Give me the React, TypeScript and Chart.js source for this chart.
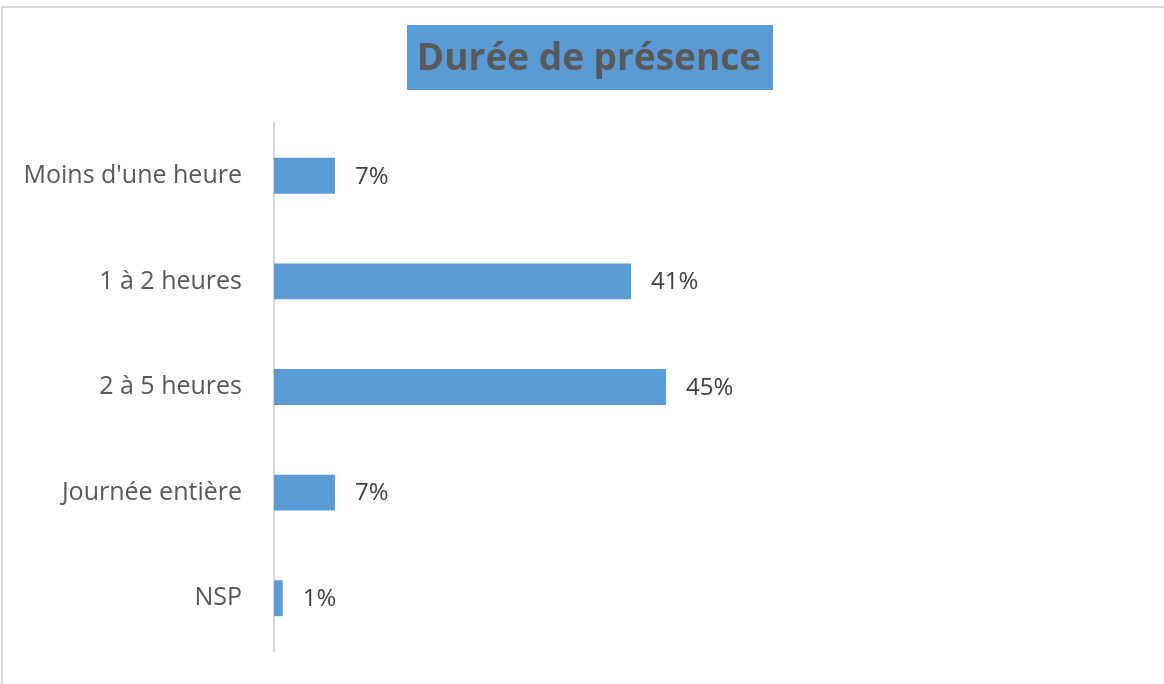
import React, { useEffect, useRef } from "react";
import { Chart, registerables } from "chart.js";

Chart.register(...registerables);

const chartTitle = "Durée de présence";
const categories = ["Moins d'une heure", "1 à 2 heures", "2 à 5 heures", "Journée entière", "NSP"];
const values = [7, 41, 45, 7, 1];
const axisMax = 100;

const FONT = "'Open Sans', 'Noto Sans', sans-serif";
const BLUE = "#5B9BD5";

export default function App() {
  const ref = useRef<HTMLCanvasElement>(null);

  useEffect(() => {
    document.body.style.margin = "0";
    const canvas = ref.current;
    if (!canvas) return;

    const titleBox = {
      id: "titleBox",
      beforeDraw(chart: any) {
        const ctx = chart.ctx;
        ctx.save();
        ctx.fillStyle = "#ffffff";
        ctx.fillRect(0, 0, chart.width, chart.height);
        ctx.strokeStyle = "#d9d9d9";
        ctx.lineWidth = 2;
        ctx.beginPath();
        ctx.moveTo(2, chart.height);
        ctx.lineTo(2, 7);
        ctx.lineTo(chart.width, 7);
        ctx.stroke();
        ctx.fillStyle = BLUE;
        ctx.fillRect(407, 25, 366, 65);
        ctx.fillStyle = "#595959";
        ctx.font = `bold 37px ${FONT}`;
        ctx.textAlign = "center";
        ctx.textBaseline = "middle";
        ctx.fillText(chartTitle, 589, 59);
        ctx.restore();
      },
    };

    const valueLabels = {
      id: "valueLabels",
      afterDatasetsDraw(chart: any) {
        const ctx = chart.ctx;
        const meta = chart.getDatasetMeta(0);
        ctx.save();
        ctx.fillStyle = "#404040";
        ctx.font = `24px ${FONT}`;
        ctx.textAlign = "left";
        ctx.textBaseline = "middle";
        meta.data.forEach((bar: any, i: number) => {
          ctx.fillText(values[i] + "%", bar.x + 20, bar.y + 1);
        });
        ctx.restore();
      },
    };

    const chart = new Chart(canvas, {
      type: "bar",
      data: {
        labels: categories,
        datasets: [
          {
            data: values,
            backgroundColor: BLUE,
            borderWidth: 0,
            barPercentage: 0.34,
            categoryPercentage: 1,
          },
        ],
      },
      options: {
        indexAxis: "y",
        responsive: false,
        animation: false,
        layout: { padding: { top: 123, bottom: 33, right: 19, left: 0 } },
        plugins: {
          legend: { display: false },
          tooltip: { enabled: false },
          title: { display: false },
        },
        scales: {
          x: { display: false, min: 0, max: axisMax },
          y: {
            grid: { display: false },
            border: { display: true, color: "#d9d9d9", width: 2 },
            ticks: {
              color: "#595959",
              font: { family: FONT, size: 25 },
              padding: 24,
            },
            afterFit(scale: any) {
              scale.width = 274;
              scale.paddingTop = 0;
              scale.paddingBottom = 0;
            },
          },
        },
      },
      plugins: [titleBox, valueLabels],
    });

    return () => chart.destroy();
  }, []);

  return (
    <div style={{ position: "relative", width: 1164, height: 684 }}>
      <canvas ref={ref} width={1164} height={684} />
    </div>
  );
}
